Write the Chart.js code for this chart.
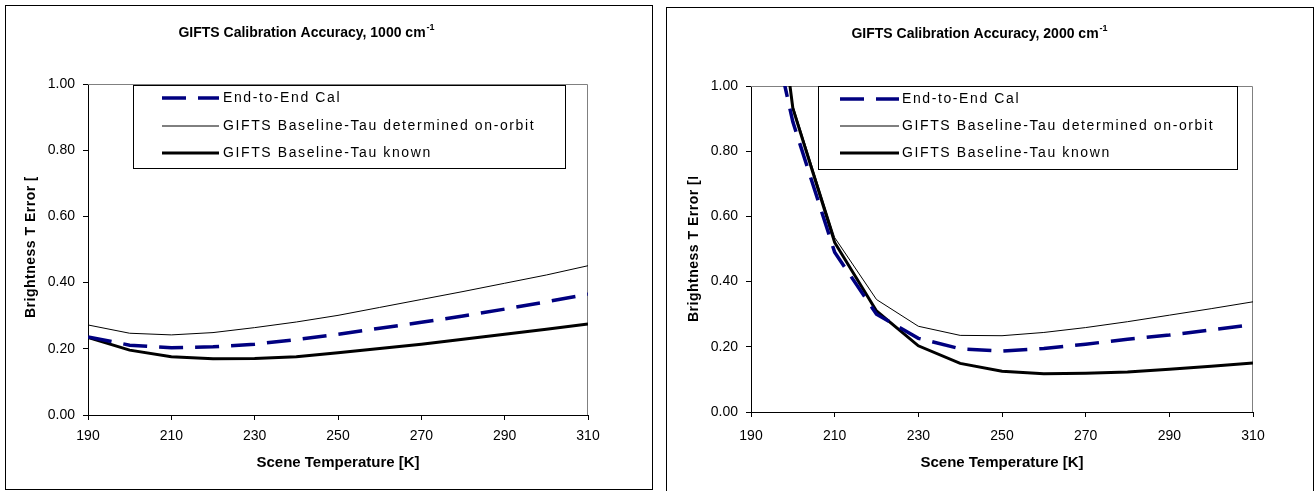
<!DOCTYPE html>
<html>
<head>
<meta charset="utf-8">
<script src="https://cdn.jsdelivr.net/npm/chart.js@4.4.0/dist/chart.umd.min.js"></script>
<style>
  html, body { margin: 0; padding: 0; background: #fff; }
  #left { position: absolute; left: 0; top: 0; width: 658px; height: 491px; }
  #right { position: absolute; left: 658px; top: 0; width: 657px; height: 491px; }
</style>
</head>
<body>
<div id="left"><canvas id="c1"></canvas></div>
<div id="right"><canvas id="c2"></canvas></div>
<script>
// scene temperature [K]
const temps = [190, 200, 210, 220, 230, 240, 250, 260, 270, 280, 290, 300, 310];
const xTicks = [190, 210, 230, 250, 270, 290, 310];
const seriesNames = ['End-to-End Cal', 'GIFTS Baseline-Tau determined on-orbit', 'GIFTS Baseline-Tau known'];

// 1000 cm-1
const e2e1000 = [0.236, 0.211, 0.203, 0.206, 0.214, 0.228, 0.244, 0.262, 0.280, 0.299, 0.320, 0.342, 0.365];
const determined1000 = [0.272, 0.247, 0.242, 0.249, 0.264, 0.281, 0.301, 0.325, 0.349, 0.373, 0.398, 0.423, 0.451];
const known1000 = [0.234, 0.196, 0.176, 0.170, 0.171, 0.176, 0.188, 0.201, 0.214, 0.229, 0.244, 0.259, 0.275];

// 2000 cm-1
const e2e2000 = [1.47, 0.89, 0.49, 0.300, 0.226, 0.194, 0.187, 0.195, 0.208, 0.223, 0.236, 0.252, 0.268];
const determined2000 = [1.90, 0.94, 0.535, 0.345, 0.263, 0.235, 0.234, 0.244, 0.259, 0.277, 0.297, 0.317, 0.338];
const known2000 = [1.93, 0.932, 0.520, 0.310, 0.203, 0.149, 0.125, 0.117, 0.119, 0.123, 0.131, 0.140, 0.150];

const FONT = "'Liberation Sans', Arial, sans-serif";

function pts(ys) {
  return temps.map((t, i) => ({ x: t, y: ys[i] }));
}

// panel border, gray plot frame, legend box and titles
const decor = {
  id: 'decor',
  beforeDraw(chart, args, o) {
    const ctx = chart.ctx;
    ctx.save();
    ctx.strokeStyle = '#000';
    ctx.lineWidth = 1;
    ctx.strokeRect(o.panel[0] + 0.5, o.panel[1] + 0.5, o.panel[2], o.panel[3]);
    ctx.restore();
  },
  beforeDatasetsDraw(chart) {
    const ctx = chart.ctx, a = chart.chartArea;
    ctx.save();
    ctx.strokeStyle = '#808080';
    ctx.lineWidth = 1;
    ctx.beginPath();
    ctx.moveTo(a.left, a.top + 0.5);
    ctx.lineTo(a.right - 0.5, a.top + 0.5);
    ctx.lineTo(a.right - 0.5, a.bottom);
    ctx.stroke();
    ctx.restore();
  },
  afterDraw(chart, args, o) {
    const ctx = chart.ctx, a = chart.chartArea;
    ctx.save();

    // legend
    const b = o.legendBox;
    ctx.fillStyle = '#fff';
    ctx.fillRect(b[0], b[1], b[2], b[3]);
    ctx.strokeStyle = '#000';
    ctx.lineWidth = 1;
    ctx.strokeRect(b[0] + 0.5, b[1] + 0.5, b[2], b[3]);
    chart.data.datasets.forEach((ds, i) => {
      const y = o.rows[i];
      ctx.beginPath();
      ctx.setLineDash(ds.borderDash || []);
      ctx.strokeStyle = ds.borderColor;
      ctx.lineWidth = ds.borderWidth;
      ctx.moveTo(o.sample[0], y);
      ctx.lineTo(o.sample[1], y);
      ctx.stroke();
      ctx.setLineDash([]);
      ctx.fillStyle = '#000';
      ctx.font = '14px ' + FONT;
      ctx.letterSpacing = '1.6px';
      ctx.textAlign = 'left';
      ctx.textBaseline = 'middle';
      ctx.fillText(ds.label, o.textX, y);
      ctx.letterSpacing = '0px';
    });

    // chart title with superscript
    ctx.fillStyle = '#000';
    ctx.textBaseline = 'middle';
    ctx.textAlign = 'left';
    ctx.font = 'bold 14px ' + FONT;
    const w1 = ctx.measureText(o.title).width;
    ctx.font = 'bold 9px ' + FONT;
    const w2 = ctx.measureText('-1').width;
    const x0 = o.titleX - (w1 + w2) / 2;
    ctx.font = 'bold 14px ' + FONT;
    ctx.fillText(o.title, x0, o.titleY);
    ctx.font = 'bold 9px ' + FONT;
    ctx.fillText('-1', x0 + w1 + 1, o.titleY - 5);

    // x axis title
    ctx.font = 'bold 15px ' + FONT;
    ctx.textAlign = 'center';
    ctx.fillText('Scene Temperature [K]', (a.left + a.right) / 2, o.xTitleY);

    // y axis title, clipped at the top as in the original
    ctx.save();
    ctx.beginPath();
    ctx.rect(0, o.yTitle[2], a.left, 491);
    ctx.clip();
    ctx.translate(o.yTitle[0], o.yTitle[1]);
    ctx.rotate(-Math.PI / 2);
    ctx.textAlign = 'left';
    ctx.font = 'bold 14px ' + FONT;
    ctx.letterSpacing = '0.5px';
    ctx.fillText('Brightness T Error [K]', 0, 0);
    ctx.letterSpacing = '0px';
    ctx.restore();

    ctx.restore();
  }
};

function makeChart(id, e2e, det, known, o) {
  const ctx = document.getElementById(id);
  return new Chart(ctx, {
    type: 'line',
    data: {
      datasets: [
        { label: seriesNames[0], data: pts(e2e), borderColor: '#000080', borderWidth: 3.5, borderDash: [24, 12] },
        { label: seriesNames[1], data: pts(det), borderColor: '#000', borderWidth: 1 },
        { label: seriesNames[2], data: pts(known), borderColor: '#000', borderWidth: 3 }
      ]
    },
    options: {
      responsive: true,
      maintainAspectRatio: false,
      animation: false,
      events: [],
      elements: { point: { radius: 0 }, line: { tension: 0 } },
      layout: { padding: { left: 0, right: o.padRight, top: o.padTop, bottom: 0 } },
      plugins: {
        legend: { display: false },
        title: { display: false },
        tooltip: { enabled: false },
        decor: o
      },
      scales: {
        x: {
          type: 'linear',
          min: 190,
          max: 310,
          afterBuildTicks: s => { s.ticks = xTicks.map(v => ({ value: v })); },
          afterFit: s => { s.height = o.xHeight; },
          grid: { drawOnChartArea: false, drawTicks: true, tickLength: 5, color: '#000' },
          border: { color: '#000', width: 1 },
          ticks: { color: '#000', padding: o.xPad, font: { family: FONT, size: 14 }, maxRotation: 0 }
        },
        y: {
          min: 0,
          max: 1,
          afterFit: s => { s.width = o.yWidth; },
          grid: { drawOnChartArea: false, drawTicks: true, tickLength: 5, color: '#000' },
          border: { color: '#000', width: 1 },
          ticks: { stepSize: 0.2, color: '#000', padding: 8, font: { family: FONT, size: 14 },
                   callback: v => v.toFixed(2) }
        }
      }
    },
    plugins: [decor]
  });
}

makeChart('c1', e2e1000, determined1000, known1000, {
  padRight: 70, padTop: 84, xHeight: 76, yWidth: 88, xPad: 8,
  panel: [5, 5, 647, 484],
  legendBox: [133, 85, 432, 83],
  rows: [98, 126, 153],
  sample: [162, 219],
  textX: 223,
  title: 'GIFTS Calibration Accuracy, 1000 cm',
  titleX: 306, titleY: 33,
  xTitleY: 463,
  yTitle: [31, 318, 177]
});

makeChart('c2', e2e2000, determined2000, known2000, {
  padRight: 62, padTop: 86, xHeight: 79, yWidth: 93, xPad: 11,
  panel: [8, 7, 647, 500],
  legendBox: [160, 86, 419, 83],
  rows: [99, 126, 153],
  sample: [182, 241],
  textX: 244,
  title: 'GIFTS Calibration Accuracy, 2000 cm',
  titleX: 321, titleY: 34,
  xTitleY: 463,
  yTitle: [36, 322, 177]
});
</script>
</body>
</html>
